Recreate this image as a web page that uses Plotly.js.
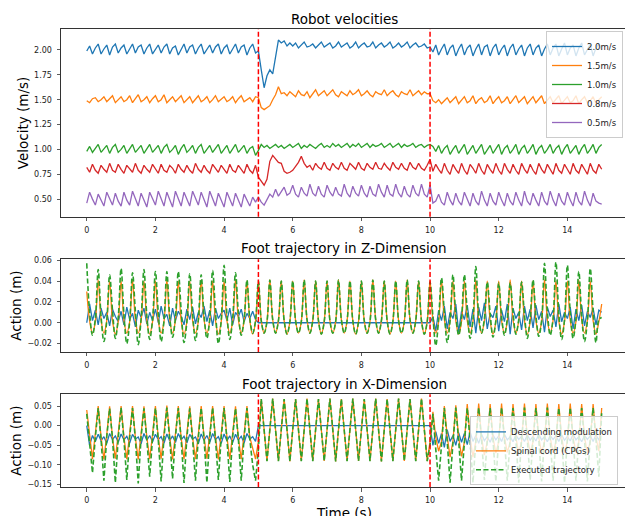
<!DOCTYPE html>
<html><head><meta charset="utf-8">
<script src="https://cdn.plot.ly/plotly-3.0.1.min.js"></script>
<style>html,body{margin:0;padding:0;background:#fff;}#chart{width:625px;height:516px;}</style>
</head><body><div id="chart"></div>
<script>
// ---------------- data ----------------
const SAMPLE_DT = 1 / 12;   // seconds between samples, 0 .. 15 s
const velocityNames = ['2.0m/s', '1.5m/s', '1.0m/s', '0.8m/s', '0.5m/s'];
const v20 = [
1.99,2.04,1.96,2.02,2.06,1.96,2.01,2.05,1.95,2.03,2.06,1.97,
2.02,2.05,1.96,2.01,2.06,1.97,2.03,2.05,1.96,2.02,2.06,1.96,
2.01,2.05,1.97,2.03,2.06,1.96,2.02,2.04,1.95,2.01,2.06,1.97,
2.03,2.05,1.96,2.02,2.06,1.96,2.01,2.05,1.97,2.03,2.06,1.96,
2.02,2.05,1.96,2.01,2.06,1.97,2.03,2.05,1.95,2.02,2.06,1.97,
1.99,1.80,1.62,1.74,1.80,1.76,1.95,2.10,2.07,2.09,2.04,2.07,
2.04,2.07,2.02,2.05,2.08,2.03,2.04,2.06,2.02,2.05,2.08,2.03,
2.05,2.07,2.02,2.04,2.08,2.03,2.05,2.07,2.02,2.04,2.08,2.02,
2.05,2.07,2.03,2.04,2.08,2.02,2.05,2.07,2.03,2.05,2.08,2.02,
2.04,2.07,2.03,2.05,2.08,2.02,2.05,2.07,2.03,2.04,2.06,2.02,
2.03,1.98,2.05,1.95,2.01,2.06,1.95,2.02,2.05,1.94,2.01,2.06,
1.95,2.02,2.05,1.94,2.01,2.06,1.95,2.03,2.05,1.94,2.02,2.06,
1.95,2.01,2.05,1.94,2.02,2.06,1.95,2.01,2.05,1.94,2.02,2.06,
1.95,2.02,2.05,1.94,2.01,2.06,1.95,2.02,2.06,1.94,2.01,2.07,
1.95,2.02,2.05,1.94,2.02,2.07,1.95,2.01,2.06,1.94,2.02,2.06,
2.00];
const v15 = [
1.49,1.47,1.51,1.52,1.48,1.50,1.53,1.48,1.51,1.54,1.47,1.50,
1.53,1.48,1.50,1.54,1.47,1.51,1.55,1.48,1.50,1.53,1.47,1.51,
1.54,1.48,1.50,1.55,1.47,1.50,1.53,1.48,1.51,1.54,1.47,1.50,
1.53,1.47,1.51,1.54,1.48,1.50,1.53,1.47,1.50,1.54,1.48,1.51,
1.53,1.48,1.50,1.53,1.47,1.51,1.54,1.48,1.50,1.52,1.48,1.53,
1.52,1.42,1.40,1.42,1.44,1.50,1.55,1.63,1.56,1.57,1.54,1.58,
1.55,1.53,1.59,1.55,1.54,1.58,1.52,1.56,1.60,1.54,1.57,1.59,
1.54,1.57,1.60,1.55,1.53,1.58,1.56,1.54,1.59,1.55,1.57,1.60,
1.54,1.56,1.59,1.55,1.53,1.58,1.56,1.55,1.60,1.54,1.57,1.59,
1.55,1.53,1.58,1.56,1.55,1.60,1.54,1.57,1.59,1.55,1.58,1.56,
1.56,1.49,1.47,1.50,1.46,1.49,1.52,1.47,1.50,1.53,1.46,1.49,
1.53,1.47,1.49,1.54,1.46,1.50,1.52,1.47,1.49,1.54,1.46,1.50,
1.53,1.47,1.49,1.53,1.46,1.50,1.54,1.47,1.50,1.53,1.46,1.49,
1.53,1.47,1.50,1.54,1.46,1.49,1.53,1.47,1.50,1.54,1.46,1.50,
1.53,1.47,1.49,1.54,1.46,1.50,1.53,1.47,1.49,1.53,1.46,1.50,
1.53];
const v10 = [
0.98,1.03,0.97,1.01,1.05,0.97,1.00,1.04,0.96,1.02,1.05,0.97,
1.00,1.04,0.96,1.01,1.05,0.97,1.01,1.04,0.96,1.00,1.05,0.97,
1.01,1.04,0.96,1.02,1.05,0.97,1.00,1.04,0.95,1.01,1.05,0.97,
1.00,1.04,0.96,1.02,1.05,0.96,1.00,1.04,0.97,1.01,1.05,0.96,
1.00,1.04,0.96,1.01,1.05,0.97,1.00,1.04,0.96,1.01,1.03,0.94,
0.99,1.05,1.02,1.04,1.01,1.03,1.05,1.02,1.04,1.01,1.03,1.05,
1.02,1.04,1.06,1.01,1.04,1.02,1.05,1.03,1.01,1.04,1.06,1.02,
1.04,1.02,1.06,1.03,1.05,1.02,1.04,1.06,1.02,1.05,1.03,1.06,
1.02,1.04,1.06,1.02,1.05,1.03,1.04,1.06,1.02,1.04,1.06,1.02,
1.04,1.06,1.02,1.05,1.03,1.04,1.06,1.02,1.04,1.05,1.02,1.04,
1.05,1.03,0.98,1.04,0.96,1.01,1.04,0.95,1.00,1.04,0.96,1.01,
1.05,0.95,1.00,1.04,0.96,1.01,1.05,0.95,1.00,1.04,0.96,1.01,
1.05,0.95,1.01,1.04,0.96,1.00,1.05,0.95,1.01,1.04,0.96,1.00,
1.05,0.95,1.01,1.04,0.96,1.00,1.05,0.96,1.01,1.04,0.95,1.01,
1.05,0.96,1.00,1.04,0.95,1.01,1.05,0.96,1.00,1.05,0.96,1.02,
1.05];
const v08 = [
0.82,0.77,0.85,0.79,0.76,0.84,0.80,0.77,0.86,0.79,0.77,0.85,
0.80,0.76,0.84,0.81,0.77,0.86,0.79,0.76,0.84,0.80,0.77,0.85,
0.80,0.76,0.85,0.79,0.77,0.84,0.81,0.76,0.85,0.80,0.77,0.84,
0.79,0.76,0.86,0.80,0.77,0.84,0.79,0.76,0.85,0.81,0.77,0.84,
0.80,0.76,0.85,0.79,0.77,0.84,0.80,0.76,0.85,0.79,0.76,0.84,
0.72,0.68,0.64,0.70,0.88,0.94,0.90,0.87,0.86,0.78,0.76,0.77,
0.79,0.83,0.87,0.93,0.86,0.82,0.84,0.79,0.86,0.82,0.80,0.87,
0.81,0.79,0.86,0.82,0.80,0.87,0.81,0.79,0.86,0.83,0.80,0.87,
0.81,0.79,0.86,0.82,0.80,0.87,0.81,0.80,0.86,0.82,0.79,0.87,
0.82,0.80,0.86,0.81,0.79,0.87,0.82,0.80,0.86,0.81,0.79,0.84,
0.90,0.78,0.85,0.80,0.76,0.86,0.79,0.75,0.85,0.80,0.76,0.86,
0.79,0.75,0.85,0.81,0.76,0.86,0.79,0.75,0.85,0.80,0.76,0.86,
0.79,0.75,0.86,0.80,0.76,0.85,0.79,0.75,0.86,0.80,0.76,0.85,
0.79,0.75,0.86,0.80,0.76,0.85,0.80,0.75,0.86,0.79,0.76,0.85,
0.80,0.75,0.86,0.79,0.76,0.85,0.80,0.75,0.86,0.79,0.76,0.85,
0.80];
const v05 = [
0.46,0.57,0.50,0.44,0.55,0.49,0.43,0.57,0.50,0.44,0.56,0.48,
0.43,0.57,0.49,0.44,0.58,0.50,0.43,0.56,0.49,0.42,0.57,0.50,
0.44,0.58,0.50,0.43,0.57,0.49,0.42,0.58,0.51,0.43,0.57,0.49,
0.43,0.58,0.50,0.44,0.57,0.49,0.42,0.58,0.50,0.43,0.56,0.49,
0.42,0.57,0.50,0.43,0.56,0.49,0.42,0.55,0.49,0.43,0.52,0.47,
0.52,0.47,0.44,0.50,0.55,0.52,0.60,0.53,0.57,0.62,0.54,0.56,
0.64,0.55,0.52,0.62,0.56,0.53,0.65,0.56,0.53,0.63,0.55,0.52,
0.64,0.57,0.53,0.62,0.55,0.53,0.65,0.56,0.52,0.63,0.56,0.53,
0.64,0.56,0.52,0.63,0.55,0.53,0.65,0.57,0.52,0.64,0.55,0.53,
0.65,0.56,0.52,0.63,0.55,0.52,0.64,0.56,0.53,0.65,0.55,0.52,
0.64,0.46,0.48,0.55,0.47,0.44,0.57,0.49,0.44,0.56,0.48,0.44,
0.57,0.49,0.43,0.56,0.48,0.44,0.58,0.49,0.43,0.56,0.48,0.44,
0.57,0.49,0.43,0.56,0.48,0.44,0.57,0.49,0.43,0.58,0.48,0.44,
0.56,0.49,0.43,0.57,0.48,0.44,0.58,0.49,0.43,0.56,0.48,0.44,
0.57,0.49,0.43,0.57,0.48,0.44,0.58,0.49,0.43,0.56,0.48,0.46,
0.45];

const actionNames = ['Descending modulation', 'Spinal cord (CPGs)', 'Executed trajectory'];
// Z-dimension (m)
const zDesc = [
.000,.018,.002,.012,-.002,.014,.004,.010,-.003,.013,.006,.001,
.011,-.002,.015,.003,.009,-.004,.012,.005,.014,-.001,.010,.002,
.013,.000,.016,.004,.008,-.003,.014,.002,.011,.006,-.002,.013,
.003,.015,-.001,.010,.005,.016,.001,.012,-.003,.014,.004,.009,
.012,.002,.014,-.002,.010,.006,.013,.001,.009,.004,.011,.003,
0,0,0,0,0,0,0,0,0,0,0,0,
0,0,0,0,0,0,0,0,0,0,0,0,
0,0,0,0,0,0,0,0,0,0,0,0,
0,0,0,0,0,0,0,0,0,0,0,0,
0,0,0,0,0,0,0,0,0,0,0,0,
.000,.006,-.008,.012,.002,.016,-.006,.010,.004,.018,-.009,.011,
.003,.017,-.004,.013,-.010,.015,.002,.019,-.006,.009,.005,.016,
-.008,.012,.001,.018,-.011,.014,.004,.010,-.007,.016,.002,.013,
-.005,.017,.003,.011,-.009,.015,.006,.012,-.004,.018,.001,.010,
.004,.015,-.006,.013,.002,.017,-.003,.011,.005,.014,-.002,.012,
.010];
const zCpg = [
.030,.002,-.010,.001,.041,.003,-.010,.002,.040,.002,-.011,.001,
.040,.002,-.010,.001,.041,.003,-.010,.002,.040,.002,-.011,.001,
.040,.002,-.010,.001,.041,.003,-.010,.002,.040,.002,-.011,.001,
.040,.002,-.010,.001,.041,.003,-.010,.002,.040,.002,-.011,.001,
.040,.002,-.010,.001,.041,.003,-.010,.002,.040,.002,-.011,.001,
.040,.002,-.010,.001,.041,.003,-.010,.002,.040,.002,-.011,.001,
.040,.002,-.010,.001,.041,.003,-.010,.002,.040,.002,-.011,.001,
.040,.002,-.010,.001,.041,.003,-.010,.002,.040,.002,-.011,.001,
.040,.002,-.010,.001,.041,.003,-.010,.002,.040,.002,-.011,.001,
.040,.002,-.010,.001,.041,.003,-.010,.002,.040,.002,-.011,.001,
.040,.002,-.010,.001,.041,.003,-.010,.002,.040,.002,-.011,.001,
.040,.002,-.010,.001,.041,.003,-.010,.002,.040,.002,-.011,.001,
.040,.002,-.010,.001,.041,.003,-.010,.002,.040,.002,-.011,.001,
.040,.002,-.010,.001,.041,.003,-.010,.002,.040,.002,-.011,.001,
.040,.002,-.010,.001,.041,.003,-.010,.002,.040,.002,-.011,.001,
.018];
const zExec = [
.057,.010,-.012,.004,.051,.006,-.018,.002,.046,.012,-.015,.005,
.052,.008,-.020,.001,.048,.011,-.021,.004,.051,.007,-.016,.003,
.049,.010,-.018,.002,.049,.006,-.014,.005,.049,.012,-.019,.001,
.047,.009,-.017,.003,.046,.007,-.015,.004,.050,.011,-.020,.002,
.055,.008,-.016,.004,.048,.010,-.012,.003,.041,.004,-.010,.002,
.040,.002,-.010,.001,.041,.003,-.010,.002,.040,.002,-.011,.001,
.040,.002,-.010,.001,.041,.003,-.010,.002,.040,.002,-.011,.001,
.040,.002,-.010,.001,.041,.003,-.010,.002,.040,.002,-.011,.001,
.040,.002,-.010,.001,.041,.003,-.010,.002,.040,.002,-.011,.001,
.040,.002,-.010,.001,.041,.003,-.010,.002,.040,.002,-.011,.001,
.039,.006,-.022,.004,.043,.010,-.019,.002,.046,.008,-.012,.005,
.046,.011,-.015,.003,.054,.007,-.010,.004,.039,.009,-.014,.002,
.038,.006,-.012,.004,.038,.010,-.011,.003,.039,.008,-.015,.005,
.041,.007,-.013,.002,.057,.011,-.012,.004,.058,.009,-.016,.003,
.055,.010,-.015,.004,.049,.007,-.018,.002,.052,.011,-.019,.003,
.005];
// X-dimension (m)
const xDesc = [
.000,-.050,-.025,-.040,-.022,-.038,-.028,-.045,-.020,-.035,-.026,-.042,
-.021,-.036,-.027,-.044,-.022,-.034,-.029,-.046,-.020,-.037,-.025,-.041,
-.022,-.035,-.028,-.045,-.021,-.038,-.026,-.043,-.020,-.036,-.027,-.044,
-.022,-.034,-.029,-.046,-.021,-.037,-.025,-.042,-.020,-.035,-.028,-.045,
-.021,-.038,-.026,-.043,-.022,-.036,-.027,-.044,-.020,-.034,-.028,-.040,
0,0,0,0,0,0,0,0,0,0,0,0,
0,0,0,0,0,0,0,0,0,0,0,0,
0,0,0,0,0,0,0,0,0,0,0,0,
0,0,0,0,0,0,0,0,0,0,0,0,
0,0,0,0,0,0,0,0,0,0,0,0,
.000,-.050,-.015,-.045,-.020,-.055,-.010,-.040,-.025,-.050,-.018,-.042,
-.020,-.048,-.015,-.040,-.025,-.045,-.022,-.038,-.028,-.042,-.024,-.036,
-.026,-.040,-.022,-.036,-.028,-.041,-.024,-.035,-.027,-.040,-.023,-.037,
-.027,-.039,-.022,-.036,-.028,-.041,-.025,-.035,-.026,-.040,-.023,-.037,
-.027,-.039,-.022,-.036,-.028,-.041,-.025,-.035,-.026,-.040,-.023,-.037,
-.010];
const xCpg = [
.040,-.030,-.085,-.020,.050,-.028,-.086,-.022,.049,-.030,-.084,-.020,
.050,-.029,-.085,-.021,.050,-.031,-.086,-.020,.049,-.029,-.085,-.022,
.050,-.030,-.084,-.020,.051,-.029,-.086,-.021,.050,-.031,-.085,-.020,
.049,-.030,-.085,-.022,.050,-.028,-.084,-.020,.050,-.030,-.086,-.021,
.050,-.029,-.085,-.020,.049,-.031,-.085,-.022,.050,-.030,-.060,-.085,
-.040,.068,-.010,-.090,-.010,.069,-.011,-.090,-.010,.068,-.010,-.091,
-.010,.068,-.010,-.090,-.011,.069,-.010,-.090,-.010,.068,-.011,-.090,
-.010,.069,-.010,-.091,-.010,.068,-.011,-.090,-.010,.069,-.010,-.090,
-.011,.068,-.010,-.090,-.010,.069,-.010,-.091,-.010,.068,-.011,-.090,
-.010,.069,-.010,-.090,-.010,.068,-.011,-.090,-.010,.069,-.010,-.090,
-.040,.035,-.030,-.065,-.040,.050,-.028,-.080,-.040,.052,-.030,-.078,
-.042,.055,-.030,-.080,-.040,.056,-.029,-.075,-.041,.055,-.030,-.070,
-.040,.056,-.030,-.068,-.041,.055,-.029,-.070,-.040,.056,-.030,-.068,
-.041,.055,-.030,-.070,-.040,.056,-.029,-.069,-.041,.055,-.030,-.070,
-.040,.056,-.030,-.068,-.041,.055,-.029,-.070,-.040,.055,-.030,-.065,
.045];
const xExec = [
.030,-.040,-.120,-.030,.045,-.035,-.140,-.028,.044,-.033,-.145,-.032,
.046,-.036,-.138,-.030,.045,-.034,-.147,-.029,.044,-.035,-.130,-.031,
.045,-.036,-.142,-.030,.046,-.034,-.135,-.028,.045,-.035,-.146,-.030,
.044,-.035,-.140,-.031,.045,-.034,-.145,-.029,.046,-.036,-.138,-.030,
.045,-.035,-.143,-.028,.044,-.034,-.140,-.030,.045,-.035,-.100,-.140,
-.060,.068,-.010,-.090,-.010,.069,-.011,-.090,-.010,.068,-.010,-.091,
-.010,.068,-.010,-.090,-.011,.069,-.010,-.090,-.010,.068,-.011,-.090,
-.010,.069,-.010,-.091,-.010,.068,-.011,-.090,-.010,.069,-.010,-.090,
-.011,.068,-.010,-.090,-.010,.069,-.010,-.091,-.010,.068,-.011,-.090,
-.010,.069,-.010,-.090,-.010,.068,-.011,-.090,-.010,.069,-.010,-.090,
-.050,.030,-.060,-.140,-.050,.045,-.040,-.145,-.045,.046,-.038,-.140,
-.044,.045,-.036,-.145,-.040,.046,-.035,-.138,-.038,.045,-.036,-.142,
-.035,.046,-.034,-.140,-.036,.045,-.035,-.145,-.034,.046,-.035,-.138,
-.036,.045,-.034,-.142,-.035,.046,-.036,-.140,-.034,.045,-.035,-.145,
-.036,.046,-.034,-.140,-.035,.045,-.036,-.142,-.034,.045,-.035,-.130,
.035];

const switchTimes = [5, 10];
const timeTicks = [0, 2, 4, 6, 8, 10, 12, 14];
const velocityTicks = [0.5, 0.75, 1.0, 1.25, 1.5, 1.75, 2.0];
const zTicks = [-0.02, 0.0, 0.02, 0.04, 0.06];
const xActTicks = [-0.15, -0.10, -0.05, 0.0, 0.05];
const panelTitles = ['Robot velocities', 'Foot trajectory in Z-Dimension', 'Foot trajectory in X-Dimension'];
const timeTitle = 'Time (s)';

// ---------------- styling / layout ----------------
const FONT = 'DejaVu Sans';
const COLORS = ['#1f77b4', '#ff7f0e', '#2ca02c', '#d62728', '#9467bd'];
const W = 625, H = 516;
const M = {l: 61, r: 0, t: 29, b: 29.3, autoexpand: false};
const plotH = H - M.t - M.b;
const py = p => (H - M.b - p) / plotH;           // pixel row -> paper y
const px = p => (p - M.l) / (W - M.l);           // pixel column -> paper x
const panelPx = [[29, 216.7], [259, 351.7], [394, 486.7]];
const time = v20.map((_, i) => i * SAMPLE_DT);

const velSeries = [v20, v15, v10, v08, v05];
const traces = [];
velSeries.forEach((ys, k) => traces.push({
  x: time, y: ys, type: 'scatter', mode: 'lines', name: velocityNames[k],
  xaxis: 'x', yaxis: 'y', legend: 'legend',
  line: {color: COLORS[k], width: 1.3}
}));
function actionTraces(series, ax, showLeg) {
  const styles = [
    {color: COLORS[0], width: 1.3, shape: 'linear'},
    {color: COLORS[1], width: 1.3, shape: ax === '2' ? 'spline' : 'linear'},
    {color: COLORS[2], width: 1.6, dash: '5px,2.5px', shape: ax === '2' ? 'spline' : 'linear'}
  ];
  series.forEach((ys, k) => traces.push({
    x: time, y: ys, type: 'scatter', mode: 'lines', name: actionNames[k],
    xaxis: 'x' + ax, yaxis: 'y' + ax, showlegend: showLeg, legend: 'legend2',
    line: styles[k]
  }));
}
actionTraces([zDesc, zCpg, zExec], '2', false);
actionTraces([xDesc, xCpg, xExec], '3', true);

const XR = [-0.75, (W - M.l) / 34.33 - 0.75];
const axisBase = {
  showline: true, mirror: true, linecolor: '#333', linewidth: 1,
  ticks: 'outside', ticklen: 3.5, tickwidth: 0.8, tickcolor: '#333',
  showgrid: false, zeroline: false, automargin: false,
  tickfont: {family: FONT, size: 8, color: '#222'}
};
const xAxis = (anchor) => Object.assign({}, axisBase, {
  anchor, range: XR, tickvals: timeTicks, ticktext: timeTicks.map(String), ticklabelstandoff: 2
});
const yAxis = (anchor, k, range, ticks, title) => Object.assign({}, axisBase, {
  anchor, range, tickvals: ticks, tickformat: '.2f', ticklabelstandoff: 3,
  domain: [py(panelPx[k][1]), py(panelPx[k][0])],
  title: {text: title, font: {family: FONT, size: 13.5, color: '#000'}, standoff: 2}
});

const shapes = [];
['', '2', '3'].forEach(ax => switchTimes.forEach(t => shapes.push({
  type: 'line', xref: 'x' + ax, yref: 'y' + ax + ' domain', x0: t, x1: t, y0: 0, y1: 1,
  line: {color: 'red', width: 1.5, dash: '5px,2.5px'}
})));

const titleY = [19, 248, 383.5];
const annotations = panelTitles.map((txt, k) => ({
  text: txt, xref: 'paper', yref: 'paper', x: px(344.2), y: py(titleY[k]),
  xanchor: 'center', yanchor: 'middle', showarrow: false,
  font: {family: FONT, size: 13.5, color: '#000'}
}));
// x-axis title of the bottom panel (clipped by the figure edge, as in the reference)
annotations.push({
  text: timeTitle, xref: 'paper', yref: 'paper', x: px(344.2), y: py(503),
  xanchor: 'center', yanchor: 'top', showarrow: false,
  font: {family: FONT, size: 13.5, color: '#000'}
});

const legendBase = {
  bgcolor: 'rgba(255,255,255,0.8)', bordercolor: '#cccccc', borderwidth: 1,
  xref: 'paper', yref: 'paper', tracegroupgap: 0, itemwidth: 30
};
const layout = {
  width: W, height: H, margin: M, paper_bgcolor: '#fff', plot_bgcolor: '#fff',
  font: {family: FONT, color: '#222'},
  xaxis: xAxis('y'), xaxis2: xAxis('y2'), xaxis3: xAxis('y3'),
  yaxis: yAxis('x', 0, [0.322, 2.211], velocityTicks, 'Velocity (m/s)'),
  yaxis2: yAxis('x2', 1, [-0.028, 0.061], zTicks, 'Action (m)'),
  yaxis3: yAxis('x3', 2, [-0.156, 0.080], xActTicks, 'Action (m)'),
  shapes, annotations,
  showlegend: true,
  legend: Object.assign({}, legendBase, {x: px(546), xanchor: 'left', y: py(31), yanchor: 'top', font: {family: FONT, size: 8.5, color: '#222'}}),
  legend2: Object.assign({}, legendBase, {x: px(470), xanchor: 'left', y: py(485), yanchor: 'bottom', font: {family: FONT, size: 8.5, color: '#222'}})
};
Plotly.newPlot('chart', traces, layout, {staticPlot: true, displayModeBar: false});
</script></body></html>
